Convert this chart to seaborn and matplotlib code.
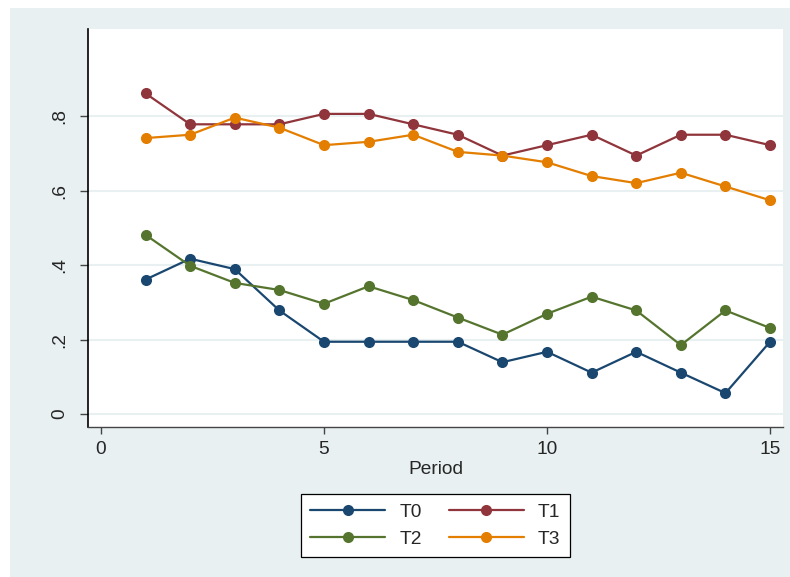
import matplotlib
matplotlib.use("Agg")
import matplotlib.pyplot as plt
from matplotlib.patches import Rectangle
import numpy as np
import pandas as pd
import seaborn as sns

# Share of subjects by period for each treatment
periods = list(range(1, 16))
t0 = [0.361, 0.417, 0.389, 0.278, 0.194, 0.194, 0.194, 0.194, 0.139, 0.167, 0.111, 0.167, 0.111, 0.056, 0.194]
t1 = [0.861, 0.778, 0.778, 0.778, 0.806, 0.806, 0.778, 0.750, 0.694, 0.722, 0.750, 0.694, 0.750, 0.750, 0.722]
t2 = [0.481, 0.398, 0.352, 0.333, 0.296, 0.343, 0.306, 0.259, 0.213, 0.269, 0.315, 0.278, 0.185, 0.278, 0.231]
t3 = [0.741, 0.750, 0.796, 0.769, 0.722, 0.731, 0.750, 0.704, 0.694, 0.676, 0.639, 0.620, 0.648, 0.611, 0.574]
groups = ["T0", "T1", "T2", "T3"]
colors = {"T0": "#1a476f", "T1": "#90353b", "T2": "#55752f", "T3": "#e37e00"}
y_ticks = [0, 0.2, 0.4, 0.6, 0.8]
y_tick_labels = ["0", ".2", ".4", ".6", ".8"]
x_ticks = [0, 5, 10, 15]

df = pd.DataFrame({
    "Period": periods * 4,
    "value": t0 + t1 + t2 + t3,
    "group": sum([[g] * len(periods) for g in groups], []),
})

sns.set_style("white")
plt.rcParams["font.family"] = ["Liberation Sans", "DejaVu Sans"]

bg = "#e8f0f2"
fs = 13.8
fig = plt.figure(figsize=(7.9, 5.77), dpi=100)
fig.patch.set_facecolor("white")
fig.patches.append(Rectangle((10 / 790, 0), 1 - 10 / 790, (577 - 8) / 577,
                             transform=fig.transFigure, facecolor=bg,
                             edgecolor="none", zorder=-10))

ax = fig.add_axes([88 / 790, (577 - 427) / 577, (783 - 88) / 790, (427 - 29) / 577])
ax.set_facecolor("white")

sns.lineplot(data=df, x="Period", y="value", hue="group", hue_order=groups,
             palette=colors, marker="o", markersize=8, markeredgewidth=0,
             linewidth=1.6, ax=ax, legend=False, zorder=3)

ax.set_xlim(-0.29, 15.29)
ax.set_ylim(-0.035, 1.034)
ax.set_yticks(y_ticks)
ax.set_yticklabels(y_tick_labels, rotation=90, va="center")
ax.set_xticks(x_ticks)
ax.set_xlabel("Period", fontsize=fs, labelpad=2)
ax.set_ylabel("")
ax.tick_params(axis="both", labelsize=fs, color="#444444", direction="out")
ax.tick_params(axis="y", length=6, width=1, pad=8, left=True)
ax.tick_params(axis="x", length=5, width=1, pad=5, bottom=True)
ax.yaxis.grid(True, color=bg, linewidth=1.5, zorder=0)
ax.xaxis.grid(False)
for side in ["top", "right"]:
    ax.spines[side].set_visible(False)
ax.spines["left"].set_color("#000000")
ax.spines["left"].set_linewidth(1.2)
ax.spines["bottom"].set_color("#444444")
ax.spines["bottom"].set_linewidth(1.0)

# Legend: two columns, T0/T1 on the first row, T2/T3 on the second
order = ["T0", "T2", "T1", "T3"]
proxy = [plt.Line2D([0], [0], color=colors[g], marker="o", markersize=8,
                    markeredgewidth=0, linewidth=1.6) for g in order]
leg = fig.legend(proxy, order, loc="center", bbox_to_anchor=(435.5 / 790, 51.5 / 577),
                 ncol=2, fontsize=fs, frameon=True, fancybox=False, framealpha=1,
                 edgecolor="black", handlelength=3.9, handletextpad=0.75,
                 columnspacing=1.4, labelspacing=0.5, borderpad=0.5)
leg.get_frame().set_linewidth(0.9)

fig.savefig("out.png", dpi=100, facecolor=fig.get_facecolor())
